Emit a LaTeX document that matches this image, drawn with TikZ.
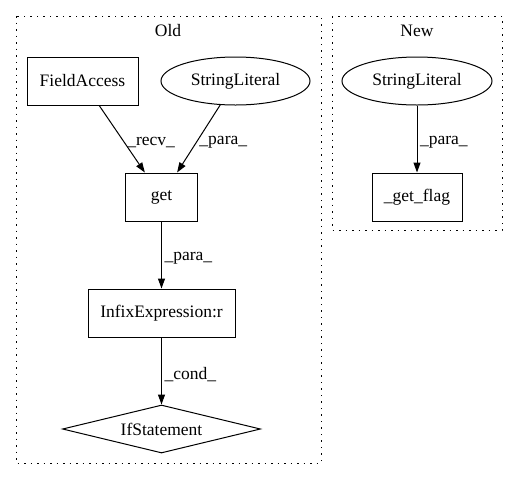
\documentclass[tikz,border=0pt]{standalone}
\usepackage{fontspec}
\setmainfont{Liberation Serif}
\usetikzlibrary{positioning, shapes.geometric, arrows.meta}

\begin{document}
\begin{tikzpicture}[x=1pt, y=-1pt, line width=1pt,
    font=\fontsize{17.5pt}{20pt}\selectfont,
    >={Triangle[length=10pt, width=7pt]},
    box/.style={draw, minimum height=48pt, inner sep=0pt},
    oval/.style={draw, ellipse, minimum width=149pt, minimum height=48pt, inner sep=0pt},
    cond/.style={draw, diamond, aspect=4.125, minimum width=198pt, minimum height=48pt, inner sep=0pt},
    lab/.style={right, pos=0.55, inner sep=2.5pt},
    cluster/.style={draw, dash pattern=on 1.5pt off 5pt}]
            \useasboundingbox (0,0) rectangle (519,480);
            \path[cluster] (16,16) rectangle (321,463);
            \path[cluster] (332,16) rectangle (502,230);
            \node (old) at (168,31) {Old};
            \node (new) at (417,31) {New};
            \node [box, minimum width=111pt] (fa) at (82.5,81) {FieldAccess};
            \node [oval] (strold) at (235.5,81) {StringLiteral};
            \node [box, minimum width=72pt] (get) at (161.5,197) {get};
            \node [box, minimum width=147pt] (infix) at (161.5,313) {InfixExpression:r};
            \node [cond] (ifst) at (161.5,429) {IfStatement};
            \node [oval, minimum width=150pt] (strnew) at (417,81) {StringLiteral};
            \node [box, minimum width=90pt] (getflag) at (417,197) {\_get\_flag};
            \draw [->] (fa) -- node [lab] {\_recv\_} (get);
            \draw [->] (strold) -- node [lab] {\_para\_} (get);
            \draw [->] (get) -- node [lab] {\_para\_} (infix);
            \draw [->] (infix) -- node [lab] {\_cond\_} (ifst);
            \draw [->] (strnew) -- node [lab] {\_para\_} (getflag);
        \end{tikzpicture}
\end{document}
